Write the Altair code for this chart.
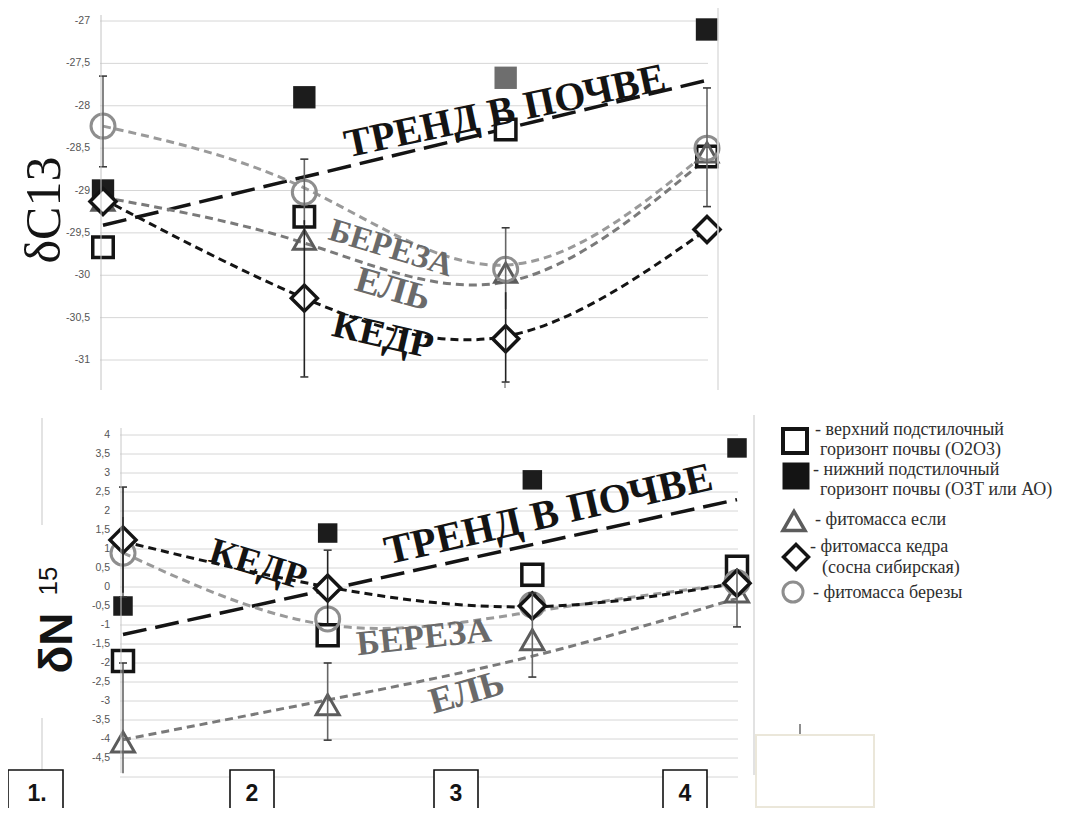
import altair as alt
import pandas as pd

# ---------------- data ----------------
sites = [1, 2, 3, 4]

# upper panel: delta C13
c13_upper_soil = [-29.67, -29.31, -28.28, -28.60]
c13_lower_soil = [-29.00, -27.90, -27.67, -27.10]
c13_spruce = [-29.12, -29.58, -29.97, -28.55]
c13_cedar = [-29.13, -30.27, -30.75, -29.46]
c13_birch = [-28.24, -29.02, -29.93, -28.50]
c13_spruce_curve = [-29.08, -29.62, -30.08, -28.62]
c13_cedar_curve = [-29.10, -30.27, -30.72, -29.46]
c13_birch_curve = [-28.24, -28.97, -29.88, -28.55]
trend_sites = [1, 4]
c13_soil_trend = [-29.41, -27.70]
c13_err_dark_sites = [2, 3]
c13_err_dark_low = [-31.20, -31.26]
c13_err_dark_high = [-29.35, -30.20]
c13_err_grey_sites = [1, 2, 3, 4]
c13_err_grey_low = [-28.72, -29.40, -30.40, -29.19]
c13_err_grey_high = [-27.65, -28.63, -29.44, -27.79]
c13_cap_sites = [1, 1, 2, 2, 3, 3, 4, 4]
c13_cap_values = [-27.65, -28.72, -28.63, -31.20, -29.44, -31.26, -27.79, -29.19]
c13_ticks = [-27, -27.5, -28, -28.5, -29, -29.5, -30, -30.5, -31]

# lower panel: delta N15
n15_upper_soil = [-1.95, -1.27, 0.32, 0.53]
n15_lower_soil = [-0.50, 1.42, 2.82, 3.66]
n15_spruce = [-4.08, -3.10, -1.39, -0.13]
n15_cedar = [1.24, -0.03, -0.50, 0.10]
n15_birch = [0.89, -0.84, -0.47, 0.12]
n15_spruce_curve = [-4.02, -2.97, -1.82, -0.30]
n15_cedar_curve = [1.20, 0.00, -0.52, 0.10]
n15_birch_curve = [0.90, -1.00, -0.65, 0.10]
n15_soil_trend = [-1.25, 2.30]
n15_err_dark_sites = [1, 2]
n15_err_dark_low = [-0.15, -1.00]
n15_err_dark_high = [2.63, 0.97]
n15_err_grey_sites = [1, 1, 2, 3, 4]
n15_err_grey_low = [-0.26, -4.90, -4.03, -2.37, -1.05]
n15_err_grey_high = [1.84, -2.00, -2.00, -0.16, 0.50]
n15_cap_sites = [1, 1, 1, 2, 2, 2, 3, 3, 4]
n15_cap_values = [2.63, -0.26, -2.00, 0.97, -2.00, -4.03, -0.16, -2.37, -1.05]
n15_ticks = [4, 3.5, 3, 2.5, 2, 1.5, 1, 0.5, 0, -0.5, -1, -1.5, -2, -2.5, -3, -3.5, -4, -4.5]
n15_grid = n15_ticks + [-5]

legend_lines = [
    "- верхний подстилочный",
    "горизонт почвы (О2О3)",
    "- нижний подстилочный",
    "горизонт почвы (ОЗТ или АО)",
    "- фитомасса если",
    "- фитомасса кедра",
    "(сосна сибирская)",
    "- фитомасса березы",
]
site_box_labels = ["1.", "2", "3", "4"]

# ---------------- layout helpers ----------------
def P(v):  # page pixel -> chart pixel (page margin 8)
    return v - 8

BLACK = "#141414"
GREY = "#6a6a6a"
LIGHT = "#8e8e8e"
SERIF = "'Liberation Serif', 'DejaVu Serif', serif"
SANS = "Liberation Sans"

XS_TOP = alt.Scale(domain=[1, 4], range=[P(103), P(707)], nice=False, zero=False)
YS_TOP = alt.Scale(domain=[-31, -27], range=[P(360), P(21)], nice=False, zero=False)
XS_BOT = alt.Scale(domain=[1, 4], range=[P(123), P(737)], nice=False, zero=False)
YS_BOT = alt.Scale(domain=[-4.5, 4], range=[P(758), P(435)], nice=False, zero=False)


def comma(v):
    return f"{v:g}".replace(".", ",")


def frame(xs, ys):
    return pd.DataFrame({"site": xs, "v": ys})


def X(scale):
    return alt.X("site:Q", scale=scale, axis=None)


def Y(field, scale):
    return alt.Y(f"{field}:Q", scale=scale, axis=None)


def curve(ys, xs_, ysc, color, dash, width, xsites=sites, interp="natural"):
    return alt.Chart(frame(xsites, ys)).mark_line(
        color=color, strokeDash=dash, strokeWidth=width, interpolate=interp
    ).encode(x=X(xs_), y=Y("v", ysc))


def points(ys, xs_, ysc, **mk):
    return alt.Chart(frame(sites, ys)).mark_point(opacity=1, **mk).encode(x=X(xs_), y=Y("v", ysc))


def errbars(s, lo, hi, xs_, ysc, color):
    df = pd.DataFrame({"site": s, "lo": lo, "hi": hi})
    return alt.Chart(df).mark_rule(color=color, strokeWidth=1.6).encode(
        x=X(xs_), y=Y("lo", ysc), y2="hi:Q"
    )


def caps(s, vals, xs_, ysc):
    return alt.Chart(frame(s, vals)).mark_point(
        shape="stroke", size=64, stroke="#3a3a3a", strokeWidth=1.6, opacity=1
    ).encode(x=X(xs_), y=Y("v", ysc))


def note(text, site, val, xs_, ysc, angle, color, size):
    df = pd.DataFrame({"site": [site], "v": [val], "t": [text]})
    return alt.Chart(df).mark_text(
        font=SERIF, fontWeight="bold", fontSize=size, angle=angle, color=color,
        align="center", baseline="middle"
    ).encode(x=X(xs_), y=Y("v", ysc), text="t:N")


def grid(vals, ysc, x1, x2):
    return alt.Chart(pd.DataFrame({"v": vals})).mark_rule(color="#d6d6d6", strokeWidth=1).encode(
        y=Y("v", ysc), x=alt.value(P(x1)), x2=alt.value(P(x2))
    )


def tick_labels(vals, ysc, xr):
    df = pd.DataFrame({"v": vals, "lab": [comma(v) for v in vals]})
    return alt.Chart(df).mark_text(
        font=SANS, fontSize=10.5, color="#555555", align="right", baseline="middle"
    ).encode(y=Y("v", ysc), x=alt.value(P(xr)), text="lab:N")


# ---------------- upper panel ----------------
top = alt.layer(
    grid(c13_ticks, YS_TOP, 100, 708),
    tick_labels(c13_ticks, YS_TOP, 90),
    curve(c13_soil_trend, XS_TOP, YS_TOP, BLACK, [24, 9], 3.5, xsites=trend_sites, interp="linear"),
    curve(c13_birch_curve, XS_TOP, YS_TOP, "#9a9a9a", [8, 5], 3),
    curve(c13_spruce_curve, XS_TOP, YS_TOP, "#7a7a7a", [8, 5], 3),
    curve(c13_cedar_curve, XS_TOP, YS_TOP, BLACK, [8, 5], 3),
    alt.Chart(frame(sites, c13_lower_soil)).mark_point(
        shape="square", size=500, filled=True, opacity=1, strokeWidth=0
    ).encode(
        x=X(XS_TOP), y=Y("v", YS_TOP),
        fill=alt.condition(alt.datum.site == 3, alt.value("#6e6e6e"), alt.value("#1c1c1c")),
    ),
    points(c13_upper_soil, XS_TOP, YS_TOP, shape="square", size=420, filled=False,
           fill="white", stroke=BLACK, strokeWidth=3.5),
    points(c13_spruce, XS_TOP, YS_TOP, shape="triangle-up", size=484, filled=False,
           stroke="#5c5c5c", strokeWidth=3),
    points(c13_birch, XS_TOP, YS_TOP, shape="circle", size=576, filled=False,
           stroke=LIGHT, strokeWidth=3),
    points(c13_cedar, XS_TOP, YS_TOP, shape="diamond", size=676, filled=False,
           fill="white", stroke=BLACK, strokeWidth=3.5),
    errbars(c13_err_grey_sites, c13_err_grey_low, c13_err_grey_high, XS_TOP, YS_TOP, "#666666"),
    errbars(c13_err_dark_sites, c13_err_dark_low, c13_err_dark_high, XS_TOP, YS_TOP, "#222222"),
    caps(c13_cap_sites, c13_cap_values, XS_TOP, YS_TOP),
    note("ТРЕНД В ПОЧВЕ", 2.997, -28.07, XS_TOP, YS_TOP, 348, BLACK, 40),
    note("БЕРЕЗА", 2.43, -29.68, XS_TOP, YS_TOP, 17, GREY, 33),
    note("ЕЛЬ", 2.44, -30.17, XS_TOP, YS_TOP, 16, GREY, 37),
    note("КЕДР", 2.39, -30.72, XS_TOP, YS_TOP, 13, BLACK, 38),
)

# ---------------- lower panel ----------------
bottom = alt.layer(
    grid(n15_grid, YS_BOT, 120, 738),
    tick_labels(n15_ticks, YS_BOT, 110),
    curve(n15_soil_trend, XS_BOT, YS_BOT, BLACK, [24, 9], 3.5, xsites=trend_sites, interp="linear"),
    curve(n15_birch_curve, XS_BOT, YS_BOT, "#9a9a9a", [8, 5], 3),
    curve(n15_spruce_curve, XS_BOT, YS_BOT, "#7a7a7a", [8, 5], 3),
    curve(n15_cedar_curve, XS_BOT, YS_BOT, BLACK, [8, 5], 3),
    points(n15_lower_soil, XS_BOT, YS_BOT, shape="square", size=380, filled=True,
           fill="#1c1c1c", strokeWidth=0),
    points(n15_upper_soil, XS_BOT, YS_BOT, shape="square", size=441, filled=False,
           fill="white", stroke=BLACK, strokeWidth=3.5),
    points(n15_spruce, XS_BOT, YS_BOT, shape="triangle-up", size=529, filled=False,
           stroke="#5c5c5c", strokeWidth=3),
    points(n15_birch, XS_BOT, YS_BOT, shape="circle", size=576, filled=False,
           stroke=LIGHT, strokeWidth=3),
    points(n15_cedar, XS_BOT, YS_BOT, shape="diamond", size=676, filled=False,
           fill="white", stroke=BLACK, strokeWidth=3.5),
    errbars(n15_err_grey_sites, n15_err_grey_low, n15_err_grey_high, XS_BOT, YS_BOT, "#666666"),
    errbars(n15_err_dark_sites, n15_err_dark_low, n15_err_dark_high, XS_BOT, YS_BOT, "#222222"),
    caps(n15_cap_sites, n15_cap_values, XS_BOT, YS_BOT),
    note("КЕДР", 1.66, 0.58, XS_BOT, YS_BOT, 17, BLACK, 37),
    note("ТРЕНД В ПОЧВЕ", 3.08, 1.89, XS_BOT, YS_BOT, 347, BLACK, 41),
    note("БЕРЕЗА", 2.47, -1.32, XS_BOT, YS_BOT, 354, GREY, 35),
    note("ЕЛЬ", 2.68, -2.79, XS_BOT, YS_BOT, 344, GREY, 37),
)

# ---------------- decoration: frame lines, titles, legend, boxes ----------------
one = pd.DataFrame({"k": [0]})


def vline(x, y1, y2, color, w):
    return alt.Chart(one).mark_rule(color=color, strokeWidth=w).encode(
        x=alt.value(P(x)), y=alt.value(P(y1)), y2=alt.value(P(y2))
    )


def txt(text, x, y, **mk):
    return alt.Chart(one).mark_text(**mk).encode(
        x=alt.value(P(x)), y=alt.value(P(y)), text=alt.value(text)
    )


def sym(x, y, **mk):
    return alt.Chart(one).mark_point(opacity=1, **mk).encode(x=alt.value(P(x)), y=alt.value(P(y)))


def box(x1, y1, x2, y2, stroke, w):
    return alt.Chart(one).mark_rect(fill="white", stroke=stroke, strokeWidth=w).encode(
        x=alt.value(P(x1)), x2=alt.value(P(x2)), y=alt.value(P(y1)), y2=alt.value(P(y2))
    )


deco = [
    vline(101, 15, 390, "#c4c4c4", 1),
    vline(718, 8, 390, "#dedede", 1.5),
    vline(121, 428, 773, "#c8c8c8", 1),
    vline(754, 415, 775, "#e2e2e2", 2),
    vline(42, 418, 525, "#dadada", 1.5),
    vline(42, 718, 790, "#dadada", 1.5),
    vline(505, 382, 388, "#555555", 1),
    txt("δC13", 45, 210, font=SERIF, fontSize=50, angle=270, color=BLACK,
        align="center", baseline="middle"),
    txt("δN", 58, 643, font=SANS, fontWeight="bold", fontSize=46, angle=270, color=BLACK,
        align="center", baseline="middle"),
    txt("15", 49, 581, font=SANS, fontSize=26, angle=270, color=BLACK,
        align="center", baseline="middle"),
    # legend
    sym(795, 441, shape="square", size=576, filled=False, fill="white", stroke=BLACK, strokeWidth=4),
    sym(796, 476, shape="square", size=729, filled=True, fill=BLACK, strokeWidth=0),
    sym(794, 521, shape="triangle-up", size=484, filled=False, stroke="#5c5c5c", strokeWidth=3.5),
    sym(796, 557, shape="diamond", size=625, filled=False, fill="white", stroke=BLACK, strokeWidth=3.5),
    sym(793, 592, shape="circle", size=400, filled=False, stroke=LIGHT, strokeWidth=3),
]
legend_pos = [(815, 430), (820, 450), (813, 470), (820, 490), (815, 520), (810, 547), (822, 568), (813, 593)]
for line, (lx, ly) in zip(legend_lines, legend_pos):
    deco.append(txt(line, lx, ly, font=SERIF, fontSize=18, color="#2e2e2e",
                    align="left", baseline="middle"))

# boxed site numbers and the empty box
box_pos = [(8, 63, 37), (230, 274, 252), (434, 478, 456), (663, 707, 685)]
for lab, (bx1, bx2, cx) in zip(site_box_labels, box_pos):
    deco.append(box(bx1, 770, bx2, 814, "#111111", 1.6))
    deco.append(txt(lab, cx, 794, font=SANS, fontWeight="bold", fontSize=23, color=BLACK,
                    align="center", baseline="middle"))
deco.append(box(756, 735, 874, 807, "#ebe7da", 2))
deco.append(vline(800, 724, 734, "#444444", 1.2))

chart = alt.layer(top, bottom, *deco).resolve_scale(
    x="independent", y="independent"
).properties(
    width=1049, height=800, autosize=alt.AutoSizeParams(type="none"), padding=0,
    background="white",
).configure_view(strokeWidth=0)

chart.save("out.html", embed_options={"renderer": "svg", "actions": False})
